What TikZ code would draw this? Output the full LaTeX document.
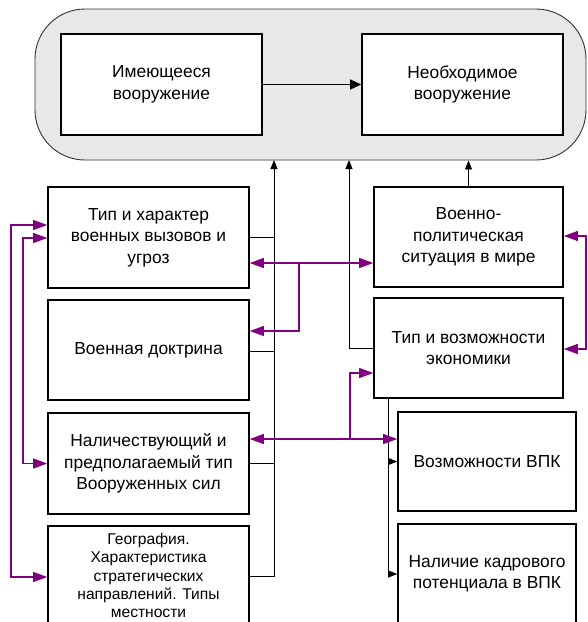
\documentclass[tikz,border=0pt]{standalone}
\usepackage{fontspec}
\setmainfont{Liberation Sans}
\usetikzlibrary{arrows.meta}
\definecolor{purp}{RGB}{128,0,128}
\definecolor{outerfill}{RGB}{232,232,232}
\definecolor{outerline}{RGB}{50,50,50}
\begin{document}
\begin{tikzpicture}[x=1pt,y=-1pt,
  box/.style={draw=black, line width=1.6pt, fill=white, align=center, inner sep=0pt,
    font=\fontsize{17.4}{21.4}\selectfont},
  smalltext/.style={align=center, inner sep=0pt, font=\fontsize{15.6}{18.2}\selectfont},
  blk/.style={draw=black, line width=0.9pt},
  blkarr/.style={blk, -{Triangle[length=9pt,width=7pt]}},
  pur/.style={draw=purp, line width=1.1pt},
  purarr/.style={pur, -{Triangle[length=14pt,width=10pt]}},
  purboth/.style={pur, {Triangle[length=14pt,width=10pt]}-{Triangle[length=14pt,width=10pt]}},
]
\useasboundingbox (0,0) rectangle (588,622);

\node[draw=outerline, fill=outerfill, line width=0.9pt, rounded corners=50pt,
  minimum width=551pt, minimum height=151pt, inner sep=0pt] (outer) at (310.5,84.5) {};

% boxes
\node[box, minimum width=201pt, minimum height=101pt] (A) at (161.5,84.5) {Имеющееся\\вооружение};
\node[box, minimum width=201pt, minimum height=101pt] (B) at (462.5,84.5) {Необходимое\\вооружение};

\node[box, minimum width=201pt, minimum height=101pt] (L1) at (148.5,237.5) {Тип и характер\\военных вызовов и\\угроз};
\node[box, minimum width=201pt, minimum height=100pt] (L2) at (148.5,350) {Военная доктрина};
\node[box, minimum width=201pt, minimum height=101pt] (L3) at (148.5,463.5) {Наличествующий и\\предполагаемый тип\\Вооруженных сил};
\node[box, minimum width=201pt, minimum height=108pt] (L4) at (148.5,580) {};
\node[smalltext] (L4t) at (148.5,575.5) {География.\\Характеристика\\стратегических\\направлений. Типы\\местности};

\node[box, minimum width=189pt, minimum height=100pt] (R1) at (468.5,237) {Военно-\\политическая\\ситуация в мире};
\node[box, minimum width=189pt, minimum height=100pt] (R2) at (468.5,348) {Тип и возможности\\экономики};
\node[box, minimum width=178pt, minimum height=99pt] (R3) at (487,461.5) {Возможности ВПК};
\node[box, minimum width=178pt, minimum height=100pt] (R4) at (487,574) {Наличие кадрового\\потенциала в ВПК};

% coordinates
\coordinate (bus) at (274,160);
\coordinate (busM) at (349,160);
\coordinate (busR) at (388,398);
\coordinate (pL1) at (11,577);
\coordinate (pL2) at (23,463.5);
\coordinate (pj1) at (299,263);
\coordinate (pj2) at (350,439);
\coordinate (pR) at (586,349);

% black connectors
\draw[blk, line width=1.4pt, -{Triangle[length=11pt,width=10pt]}] (A.east) -- (B.west);
\draw[blkarr] ([yshift=4pt]L4.east) -| (bus);
\draw[blk] (L1.east) -- (L1.east -| bus);
\draw[blk] ([yshift=-1pt]L2.east) -- ([yshift=-1pt]L2.east -| bus);
\draw[blk] (L3.east) -- (L3.east -| bus);
\draw[blkarr] (R2.west) -| (busM);
\draw[blkarr] (R1.north) -- (R1.north |- outer.south);
\draw[blkarr] (R2.south -| busR) |- (R4.west);
\draw[blkarr] (R3.west -| busR) -- (R3.west);

% purple connectors
\draw[purboth] ([yshift=12.5pt]L1.west) -| (pL1) -- ([yshift=3pt]L4.west);
\draw[purboth] ([yshift=-0.5pt]L1.west) -| (pL2) -- (L3.west);
\draw[purboth] ([yshift=-25.5pt]L1.east) -- ([yshift=-26pt]R1.west);
\draw[purarr] (pj1) |- ([yshift=19pt]L2.east);
\draw[purboth] ([yshift=24.5pt]L3.east) -- ([yshift=22.5pt]R3.west);
\draw[purarr] (pj2) |- ([yshift=-25pt]R2.west);
\draw[purboth] ([yshift=1pt]R1.east) -| (pR) -- ([yshift=-1pt]R2.east);
\end{tikzpicture}
\end{document}
